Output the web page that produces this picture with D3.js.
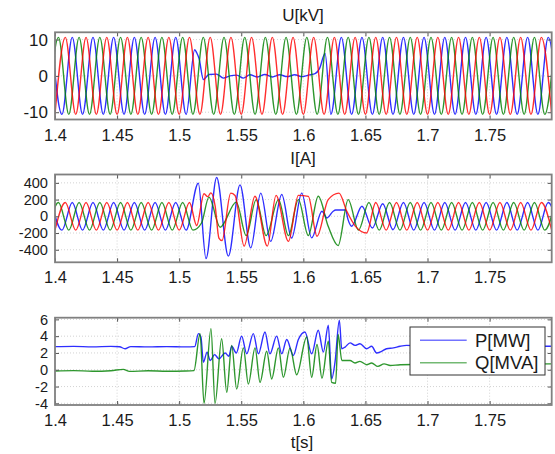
<!DOCTYPE html>
<html><head><meta charset="utf-8">
<script src="https://cdn.jsdelivr.net/npm/d3@7"></script>
<style>
body{margin:0;background:#fff;}
svg text{font-family:"Liberation Sans",Arial,sans-serif;fill:#1a1a1a;}
</style></head><body>
<svg id="c" width="555" height="454"></svg>
<script>
const xTicks=[1.4,1.45,1.5,1.55,1.6,1.65,1.7,1.75];
const uTicks=[-10,0,10];
const iTicks=[-400,-200,0,200,400];
const pqTicks=[-4,-2,0,2,4,6];
const legendLabels=["P[MW]","Q[MVA]"];

// U[kV] extrema (t, value)
const uRed=[[1.4000,-10.6],[1.4083,10.6],[1.4167,-10.6],[1.4250,10.6],[1.4333,-10.6],[1.4417,10.6],[1.4500,-10.6],[1.4583,10.6],[1.4667,-10.6],[1.4750,10.6],[1.4833,-10.6],[1.4917,10.6],[1.5000,-10.6],[1.5083,10.6],[1.5167,-10.6],[1.5250,10.6],[1.5333,-10.6],[1.5417,10.6],[1.5500,-10.6],[1.5583,10.6],[1.5667,-10.6],[1.5750,10.6],[1.5833,-10.6],[1.5917,10.6],[1.6000,-10.6],[1.6083,10.6],[1.6167,-10.6],[1.6250,10.6],[1.6333,-10.6],[1.6417,10.6],[1.6500,-10.6],[1.6583,10.6],[1.6667,-10.6],[1.6750,10.6],[1.6833,-10.6],[1.6917,10.6],[1.7000,-10.6],[1.7083,10.6],[1.7167,-10.6],[1.7250,10.6],[1.7333,-10.6],[1.7417,10.6],[1.7500,-10.6],[1.7583,10.6],[1.7667,-10.6],[1.7750,10.6],[1.7833,-10.6],[1.7917,10.6],[1.8000,-10.6]];
const uGreen=[[1.3944,-10.6],[1.4028,10.6],[1.4111,-10.6],[1.4194,10.6],[1.4278,-10.6],[1.4361,10.6],[1.4444,-10.6],[1.4528,10.6],[1.4611,-10.6],[1.4694,10.6],[1.4778,-10.6],[1.4861,10.6],[1.4944,-10.6],[1.5028,10.6],[1.5111,-10.6],[1.5194,10.6],[1.5278,-10.6],[1.5361,10.6],[1.5444,-10.6],[1.5528,10.6],[1.5611,-10.6],[1.5694,10.6],[1.5778,-10.6],[1.5861,10.6],[1.5944,-10.6],[1.6028,10.6],[1.6111,-10.6],[1.6194,10.6],[1.6278,-10.6],[1.6361,10.6],[1.6444,-10.6],[1.6528,10.6],[1.6611,-10.6],[1.6694,10.6],[1.6778,-10.6],[1.6861,10.6],[1.6944,-10.6],[1.7028,10.6],[1.7111,-10.6],[1.7194,10.6],[1.7278,-10.6],[1.7361,10.6],[1.7444,-10.6],[1.7528,10.6],[1.7611,-10.6],[1.7694,10.6],[1.7778,-10.6],[1.7861,10.6],[1.7944,-10.6],[1.8028,10.6]];
const uBlue=[[1.3972,10.6],[1.4056,-10.6],[1.4139,10.6],[1.4222,-10.6],[1.4306,10.6],[1.4389,-10.6],[1.4472,10.6],[1.4556,-10.6],[1.4639,10.6],[1.4722,-10.6],[1.4806,10.6],[1.4889,-10.6],[1.4972,10.6],[1.5056,-10.6],[1.5125,7.2],[1.5142,6.3],[1.5160,4.8],[1.5195,-1.0],[1.5240,0.4],[1.5300,0.5],[1.5356,-0.6],[1.5410,0.0],[1.5463,0.2],[1.5517,-0.6],[1.5570,0.3],[1.5630,-0.3],[1.5690,0.4],[1.5750,-0.3],[1.5810,0.3],[1.5870,-0.2],[1.5930,0.3],[1.5990,-0.2],[1.6050,0.3],[1.6094,0.6],[1.6130,2.0],[1.6175,6.2],[1.6222,-10.6],[1.6306,10.6],[1.6389,-10.6],[1.6472,10.6],[1.6556,-10.6],[1.6639,10.6],[1.6722,-10.6],[1.6806,10.6],[1.6889,-10.6],[1.6972,10.6],[1.7056,-10.6],[1.7139,10.6],[1.7222,-10.6],[1.7306,10.6],[1.7389,-10.6],[1.7472,10.6],[1.7556,-10.6],[1.7639,10.6],[1.7722,-10.6],[1.7806,10.6],[1.7889,-10.6],[1.7972,10.6],[1.8056,-10.6]];

// I[A] extrema (t, value)
const iRed=[[1.4000,-165],[1.4083,165],[1.4167,-165],[1.4250,165],[1.4333,-165],[1.4417,165],[1.4500,-165],[1.4583,165],[1.4667,-165],[1.4750,165],[1.4833,-165],[1.4917,165],[1.5000,-165],[1.5083,165],[1.5141,-110],[1.5200,270],[1.5230,235],[1.5255,280],[1.5290,120],[1.5320,-260],[1.5345,-290],[1.5415,277],[1.5450,250],[1.5523,-357],[1.5610,240],[1.5710,-357],[1.5780,250],[1.5880,-300],[1.5960,250],[1.6040,238],[1.6110,-238],[1.6200,200],[1.6287,277],[1.6350,60],[1.6420,-120],[1.6510,-199],[1.6583,165],[1.6667,-165],[1.6750,165],[1.6833,-165],[1.6917,165],[1.7000,-165],[1.7083,165],[1.7167,-165],[1.7250,165],[1.7333,-165],[1.7417,165],[1.7500,-165],[1.7583,165],[1.7667,-165],[1.7750,165],[1.7833,-165],[1.7917,165],[1.8000,-165]];
const iGreen=[[1.3944,-165],[1.4028,165],[1.4111,-165],[1.4194,165],[1.4278,-165],[1.4361,165],[1.4444,-165],[1.4528,165],[1.4611,-165],[1.4694,165],[1.4778,-165],[1.4861,165],[1.4944,-165],[1.5028,165],[1.5111,-165],[1.5180,-80],[1.5240,230],[1.5330,-130],[1.5460,170],[1.5540,-230],[1.5620,200],[1.5700,-230],[1.5800,200],[1.5880,-230],[1.5960,200],[1.6040,-230],[1.6120,240],[1.6200,-120],[1.6280,-350],[1.6361,200],[1.6444,-165],[1.6528,165],[1.6611,-165],[1.6694,165],[1.6778,-165],[1.6861,165],[1.6944,-165],[1.7028,165],[1.7111,-165],[1.7194,165],[1.7278,-165],[1.7361,165],[1.7444,-165],[1.7528,165],[1.7611,-165],[1.7694,165],[1.7778,-165],[1.7861,165],[1.7944,-165],[1.8028,165]];
const iBlue=[[1.3972,165],[1.4056,-165],[1.4139,165],[1.4222,-165],[1.4306,165],[1.4389,-165],[1.4472,165],[1.4556,-165],[1.4639,165],[1.4722,-165],[1.4806,165],[1.4889,-165],[1.4972,165],[1.5056,-165],[1.5154,396],[1.5216,-505],[1.5302,464],[1.5396,-476],[1.5490,376],[1.5576,-377],[1.5657,277],[1.5737,-300],[1.5826,260],[1.5906,-260],[1.5987,277],[1.6067,-258],[1.6150,60],[1.6190,-20],[1.6240,60],[1.6260,75],[1.6340,75],[1.6360,-40],[1.6389,-119],[1.6472,120],[1.6556,-140],[1.6639,150],[1.6722,-160],[1.6806,165],[1.6889,-165],[1.6972,165],[1.7056,-165],[1.7139,165],[1.7222,-165],[1.7306,165],[1.7389,-165],[1.7472,165],[1.7556,-165],[1.7639,165],[1.7722,-165],[1.7806,165],[1.7889,-165],[1.7972,165],[1.8056,-165]];

// P[MW] and Q[MVA] (t, value)
const pSeries=[[1.400,2.75],[1.415,2.78],[1.430,2.72],[1.445,2.78],[1.452,2.74],[1.4564,2.5],[1.461,2.76],[1.475,2.72],[1.490,2.76],[1.505,2.72],[1.5125,2.75],[1.5155,4.3],[1.5175,3.9],[1.5195,0.9],[1.5225,2.1],[1.5250,1.1],[1.5285,1.8],[1.5320,1.3],[1.5370,2.0],[1.5400,1.6],[1.5423,2.8],[1.5460,2.0],[1.5503,4.0],[1.5544,1.9],[1.5597,4.3],[1.5638,1.9],[1.5691,4.5],[1.5731,1.9],[1.5785,4.0],[1.5826,1.9],[1.5866,3.6],[1.5919,1.7],[1.5960,3.6],[1.6013,4.5],[1.6067,1.9],[1.6120,4.7],[1.6161,2.1],[1.6201,5.3],[1.6228,-1.1],[1.6255,0.9],[1.6290,5.9],[1.6309,2.5],[1.6336,2.7],[1.6376,3.2],[1.6416,2.9],[1.6456,3.1],[1.6510,2.5],[1.6550,2.8],[1.6590,2.0],[1.6630,2.2],[1.6670,2.5],[1.6725,2.6],[1.6780,2.8],[1.6832,2.9],[1.700,2.8],[1.750,2.8],[1.800,2.8]];
const qSeries=[[1.400,-0.15],[1.415,-0.1],[1.430,-0.18],[1.445,-0.12],[1.455,0.05],[1.460,-0.2],[1.475,-0.12],[1.490,-0.18],[1.505,-0.15],[1.5119,-0.1],[1.5168,4.3],[1.5200,-4.0],[1.5256,4.9],[1.5289,-4.0],[1.5342,3.7],[1.5383,-2.7],[1.5423,2.9],[1.5463,-2.3],[1.5517,2.6],[1.5557,-1.7],[1.5611,2.6],[1.5651,-1.5],[1.5705,2.2],[1.5745,-1.1],[1.5799,2.6],[1.5839,-0.9],[1.5893,2.6],[1.5946,-0.6],[1.6027,3.9],[1.6067,-0.9],[1.6110,3.0],[1.6150,-1.0],[1.6201,3.4],[1.6228,-1.5],[1.6260,-1.6],[1.6280,4.2],[1.6310,1.1],[1.6376,1.1],[1.6416,0.8],[1.6456,1.0],[1.6510,0.6],[1.6550,0.8],[1.6600,0.4],[1.6650,0.7],[1.6700,0.5],[1.6780,0.6],[1.700,0.65],[1.750,0.65],[1.800,0.7]];

const svg=d3.select('#c');
const x=d3.scaleLinear().domain([1.4,1.8]).range([55,551.7]);
const blue='#0000ff',green='#008000',red='#ff0000';
const FONT='"Liberation Sans",Arial,sans-serif';

const panels=[
 {top:32.3,bottom:119.5,domain:[-12,12],ticks:uTicks,xlabY:141,title:'U[kV]',titleY:21,yFont:17,
  series:[[uBlue,blue],[uGreen,green],[uRed,red]]},
 {top:174.5,bottom:262.3,domain:[-550,500],ticks:iTicks,xlabY:283,title:'I[A]',titleY:164,yFont:14.6,
  series:[[iBlue,blue],[iGreen,green],[iRed,red]]},
 {top:317.7,bottom:405,domain:[-4.2,6.2],ticks:pqTicks,xlabY:426,title:null,yFont:14.6,
  series:[[pSeries,blue],[qSeries,green]]}
];

panels.forEach((p,k)=>{
  const y=d3.scaleLinear().domain(p.domain).range([p.bottom,p.top]);
  const g=svg.append('g');
  const cid='clip'+k;
  svg.append('clipPath').attr('id',cid).append('rect')
    .attr('x',x.range()[0]).attr('y',p.top).attr('width',x.range()[1]-x.range()[0]).attr('height',p.bottom-p.top);
  g.selectAll('.gx').data(xTicks).join('line')
    .attr('x1',d=>x(d)).attr('x2',d=>x(d)).attr('y1',p.top).attr('y2',p.bottom)
    .attr('stroke','#c8c8c8').attr('stroke-width',0.8).attr('stroke-dasharray','1,2');
  g.selectAll('.gy').data(p.ticks).join('line')
    .attr('x1',x.range()[0]).attr('x2',x.range()[1]).attr('y1',d=>y(d)).attr('y2',d=>y(d))
    .attr('stroke','#c8c8c8').attr('stroke-width',0.8).attr('stroke-dasharray','1,2');
  const line=d3.line().x(d=>x(d[0])).y(d=>y(d[1])).curve(d3.curveMonotoneX);
  const lg=g.append('g').attr('clip-path',`url(#${cid})`);
  p.series.forEach(([data,col])=>{
    lg.append('path').attr('d',line(data)).attr('fill','none').attr('stroke',col)
      .attr('stroke-width',1.4).attr('stroke-opacity',0.82);
  });
  const xb=d3.axisBottom(x).tickValues(xTicks).tickFormat(d=>String(d)).tickSizeInner(-4).tickSizeOuter(0);
  const ax=svg.append('g').attr('transform',`translate(0,${p.bottom})`).call(xb);
  const xt=d3.axisTop(x).tickValues(xTicks).tickFormat('').tickSizeInner(-4).tickSizeOuter(0);
  svg.append('g').attr('transform',`translate(0,${p.top})`).call(xt);
  const yl=d3.axisLeft(y).tickValues(p.ticks).tickFormat(d=>String(d)).tickSizeInner(-4).tickSizeOuter(0).tickPadding(7);
  const ay=svg.append('g').attr('transform',`translate(${x.range()[0]},0)`).call(yl);
  const yr=d3.axisRight(y).tickValues(p.ticks).tickFormat('').tickSizeInner(-4).tickSizeOuter(0);
  svg.append('g').attr('transform',`translate(${x.range()[1]},0)`).call(yr);
  svg.selectAll('.domain').remove();
  svg.selectAll('.tick line').attr('stroke','#555');
  ax.selectAll('.tick text').attr('font-size',16.5).attr('fill','#1a1a1a').attr('font-family',FONT)
    .attr('y',p.xlabY-p.bottom).attr('dy','0');
  ay.selectAll('.tick text').attr('font-size',p.yFont).attr('fill','#1a1a1a').attr('font-family',FONT);
  svg.append('rect').attr('x',x.range()[0]).attr('y',p.top).attr('width',x.range()[1]-x.range()[0]).attr('height',p.bottom-p.top)
    .attr('fill','none').attr('stroke','#808080').attr('stroke-width',1.8);
  if(p.title){
    svg.append('text').attr('x',303).attr('y',p.titleY).attr('text-anchor','middle').attr('font-size',17).text(p.title);
  }
});
svg.append('text').attr('x',302).attr('y',448).attr('text-anchor','middle').attr('font-size',17).text('t[s]');

const lgd=svg.append('g');
lgd.append('rect').attr('x',410).attr('y',327).attr('width',135).attr('height',48)
  .attr('fill','#fff').attr('stroke','#333').attr('stroke-width',1);
[[blue,legendLabels[0],340.3],[green,legendLabels[1],362.7]].forEach(([c,t,yy])=>{
  lgd.append('line').attr('x1',420).attr('x2',466.7).attr('y1',yy).attr('y2',yy).attr('stroke',c).attr('stroke-width',1.4).attr('stroke-opacity',0.55);
  lgd.append('text').attr('x',475).attr('y',yy+6.5).attr('font-size',18.5).text(t);
});
</script></body></html>
